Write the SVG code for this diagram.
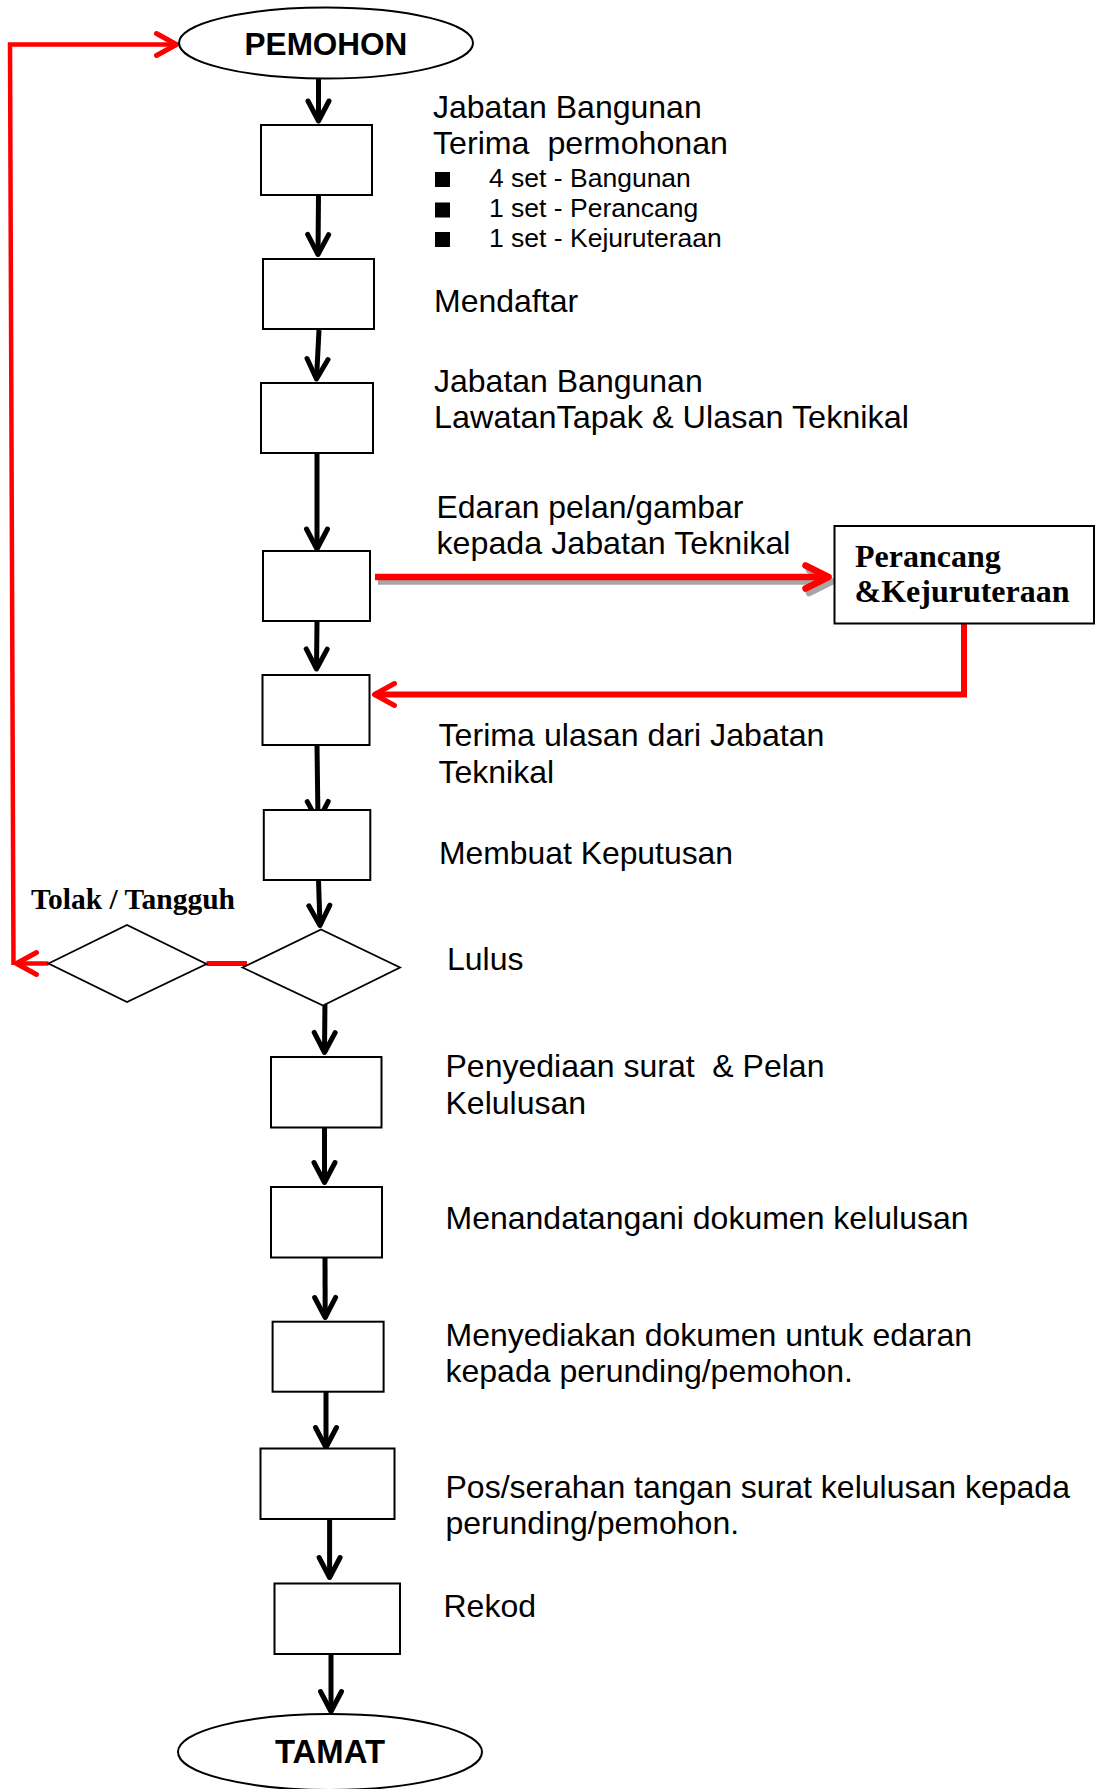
<svg xmlns="http://www.w3.org/2000/svg" width="1095" height="1789" viewBox="0 0 1095 1789">
<style>
.bg{fill:#fff}
.box{fill:#fff;stroke:#000;stroke-width:2}
.dia{fill:#fff;stroke:#000;stroke-width:1.8}
.ell{fill:#fff;stroke:#000;stroke-width:2}
.t{font-family:"Liberation Sans",Arial,sans-serif;font-size:32px;fill:#000}
.ts{font-family:"Liberation Sans",Arial,sans-serif;font-size:26.5px;fill:#000}
.hd{font-family:"Liberation Sans",Arial,sans-serif;font-size:31.5px;font-weight:bold;fill:#000;text-anchor:middle}
.sr{font-family:"Liberation Serif","Times New Roman",serif;font-weight:bold;fill:#000}
.pre{white-space:pre}
.blk{fill:none;stroke:#000;stroke-width:5;marker-end:url(#ah)}
.red{fill:none;stroke:#ff0000;stroke-width:5}
.shadow{fill:none;stroke:#a6a6a6;stroke-width:6.5}
</style>
<defs>
<marker id="ah" markerUnits="userSpaceOnUse" markerWidth="40" markerHeight="40" viewBox="-30 -20 40 40" refX="0" refY="0" orient="auto" overflow="visible">
<path d="M-20,-10.5 L0,0 L-20,10.5" fill="none" stroke="#000" stroke-width="5" stroke-linecap="round" stroke-linejoin="round"/>
</marker>
<marker id="ahr" markerUnits="userSpaceOnUse" markerWidth="40" markerHeight="40" viewBox="-30 -20 40 40" refX="0" refY="0" orient="auto" overflow="visible">
<path d="M-20,-11 L0,0 L-20,11" fill="none" stroke="#ff0000" stroke-width="5" stroke-linecap="round" stroke-linejoin="round"/>
</marker>
<marker id="ahrb" markerUnits="userSpaceOnUse" markerWidth="40" markerHeight="40" viewBox="-30 -20 40 40" refX="0" refY="0" orient="auto" overflow="visible">
<path d="M-23,-11.5 L0,0 L-23,11.5" fill="none" stroke="#ff0000" stroke-width="6.5" stroke-linecap="round" stroke-linejoin="round"/>
</marker>
<marker id="ahg" markerUnits="userSpaceOnUse" markerWidth="40" markerHeight="40" viewBox="-30 -20 40 40" refX="0" refY="0" orient="auto" overflow="visible">
<path d="M-23,-11.5 L0,0 L-23,11.5" fill="none" stroke="#a6a6a6" stroke-width="6.5" stroke-linecap="round" stroke-linejoin="round"/>
</marker>
</defs>
<rect class="bg" x="0" y="0" width="1095" height="1789"/>

<g id="connectors">
<path class="blk" d="M318.5,79 L318.5,121"/>
<path class="blk" d="M318.5,195 L318,254.5"/>
<path class="blk" d="M319,330 L316.5,379"/>
<path class="blk" d="M317,453.5 L317,549"/>
<path class="blk" d="M317,621.5 L316.5,669"/>
<path class="blk" d="M317,745 L318,821.5"/>
<path class="blk" d="M318.5,880 L320,925.5"/>
<path class="blk" d="M325,998 L324.5,1052.5"/>
<path class="blk" d="M324.5,1127.5 L324.5,1182.5"/>
<path class="blk" d="M325,1257.5 L325.2,1317.5"/>
<path class="blk" d="M326,1392 L326,1447.5"/>
<path class="blk" d="M329.6,1519 L329.6,1577.5"/>
<path class="blk" d="M331,1654 L331,1711.5"/>
<path class="shadow" d="M378,581.5 L832,581.5" marker-end="url(#ahg)"/>
<path class="red" style="stroke-width:6.5" d="M375,577 L828.5,577" marker-end="url(#ahrb)"/>
<path class="red" style="stroke-width:6" d="M964,624 L964,694.5 L374.5,694.5" marker-end="url(#ahr)"/>
<path class="red" d="M247,963.5 L206.5,963.5"/>
<path class="red" style="stroke-width:4.5" d="M48.5,963.5 L16.5,963.5" marker-end="url(#ahr)"/>
<path class="red" style="stroke-width:4.5" d="M13.5,965 L10,44.5 L176.5,44.5" marker-end="url(#ahr)"/>
</g>

<g id="pemohon">
<ellipse class="ell" cx="326" cy="43" rx="147" ry="35.5"/>
<text class="hd" x="326" y="55">PEMOHON</text>
</g>

<g id="terima-permohonan">
<rect class="box" x="261" y="125" width="111" height="70"/>
<text class="t pre" xml:space="preserve" x="433" y="117.5">Jabatan Bangunan</text>
<text class="t pre" xml:space="preserve" x="433" y="154" textLength="295" lengthAdjust="spacingAndGlyphs">Terima  permohonan</text>
<rect x="435" y="172" width="15" height="15" fill="#000"/>
<rect x="435" y="202.5" width="15" height="15" fill="#000"/>
<rect x="435" y="232" width="15" height="15" fill="#000"/>
<text class="ts" x="489" y="186.7">4 set - Bangunan</text>
<text class="ts" x="489" y="216.7">1 set - Perancang</text>
<text class="ts" x="489" y="246.7">1 set - Kejuruteraan</text>
</g>

<g id="mendaftar">
<rect class="box" x="263" y="259" width="111" height="70"/>
<text class="t" x="434" y="312">Mendaftar</text>
</g>

<g id="lawatan-tapak">
<rect class="box" x="261" y="383" width="112" height="70"/>
<text class="t" x="434" y="391.7">Jabatan Bangunan</text>
<text class="t" x="434" y="428.3" textLength="475" lengthAdjust="spacingAndGlyphs">LawatanTapak &amp; Ulasan Teknikal</text>
</g>

<g id="edaran">
<rect class="box" x="263" y="551" width="107" height="70"/>
<text class="t" x="436.5" y="518.3" textLength="307" lengthAdjust="spacingAndGlyphs">Edaran pelan/gambar</text>
<text class="t" x="436.5" y="553.8" textLength="354" lengthAdjust="spacingAndGlyphs">kepada Jabatan Teknikal</text>
</g>

<g id="perancang">
<rect class="box" x="834.5" y="526" width="259.5" height="97.5"/>
<text class="sr" style="font-size:32px" x="855" y="566.7">Perancang</text>
<text class="sr" style="font-size:32px" x="854.5" y="601.7">&amp;Kejuruteraan</text>
</g>

<g id="terima-ulasan">
<rect class="box" x="262.5" y="675" width="107" height="70"/>
<text class="t" x="438.5" y="745.5" textLength="386" lengthAdjust="spacingAndGlyphs">Terima ulasan dari Jabatan</text>
<text class="t" x="438.5" y="783">Teknikal</text>
</g>

<g id="keputusan">
<rect class="box" x="263.8" y="810" width="106.5" height="70"/>
<text class="t" x="439" y="864" textLength="294" lengthAdjust="spacingAndGlyphs">Membuat Keputusan</text>
</g>

<g id="lulus">
<polygon class="dia" points="242.5,967.5 321,929.5 400,967.5 323,1005.5"/>
<text class="t" x="447" y="970">Lulus</text>
</g>

<g id="tolak">
<polygon class="dia" points="48.5,963.5 127,925 206.5,964 127,1002"/>
<text class="sr pre" xml:space="preserve" style="font-size:28.5px" x="31" y="908.5" textLength="204" lengthAdjust="spacingAndGlyphs">Tolak / Tangguh</text>
</g>

<g id="penyediaan">
<rect class="box" x="271" y="1057" width="110.5" height="70.5"/>
<text class="t pre" xml:space="preserve" x="445.5" y="1076.8">Penyediaan surat  &amp; Pelan</text>
<text class="t" x="445.5" y="1114">Kelulusan</text>
</g>

<g id="menandatangani">
<rect class="box" x="271" y="1187" width="111" height="70.5"/>
<text class="t" x="445.5" y="1228.6">Menandatangani dokumen kelulusan</text>
</g>

<g id="menyediakan">
<rect class="box" x="272.6" y="1321.7" width="111" height="70"/>
<text class="t" x="445.5" y="1345.7">Menyediakan dokumen untuk edaran</text>
<text class="t" x="445.5" y="1382">kepada perunding/pemohon.</text>
</g>

<g id="pos-serahan">
<rect class="box" x="260.5" y="1448.5" width="134" height="70.5"/>
<text class="t" x="445.5" y="1497.5">Pos/serahan tangan surat kelulusan kepada</text>
<text class="t" x="445.5" y="1534">perunding/pemohon.</text>
</g>

<g id="rekod">
<rect class="box" x="274.5" y="1583.5" width="125.5" height="70.5"/>
<text class="t" x="443.5" y="1617">Rekod</text>
</g>

<g id="tamat">
<ellipse class="ell" cx="330" cy="1752" rx="152" ry="38"/>
<text class="hd" style="font-size:32.5px" x="330" y="1763.3" textLength="110" lengthAdjust="spacingAndGlyphs">TAMAT</text>
</g>
</svg>
